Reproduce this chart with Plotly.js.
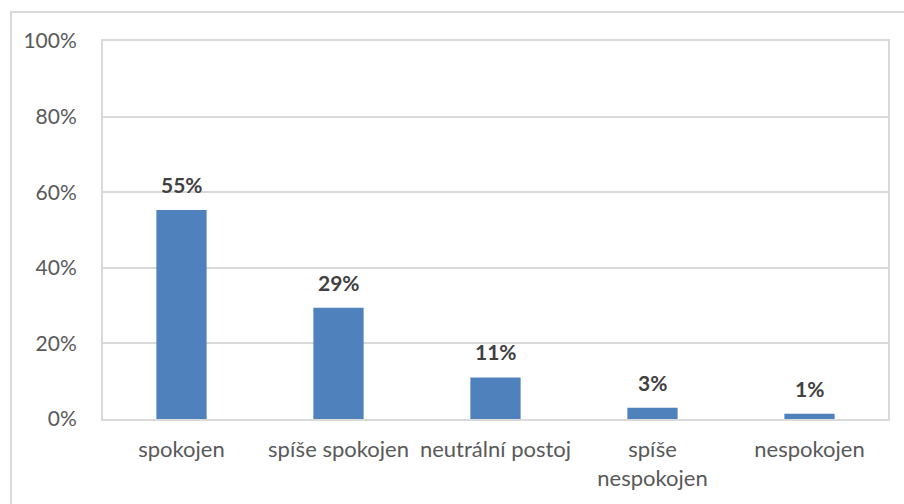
<!DOCTYPE html>
<html><head><meta charset="utf-8">
<script src="https://cdn.plot.ly/plotly-3.0.1.min.js"></script>
<style>
html,body{margin:0;padding:0;background:#fff;}
#chart{width:904px;height:504px;}
#frame{position:absolute;left:10px;top:11px;width:1000px;height:1000px;border:2px solid #d9d9d9;pointer-events:none;}
</style></head>
<body>
<div id="chart"></div>
<div id="frame"></div>
<script>
const categories = ["spokojen", "spíše spokojen", "neutrální postoj", "spíše<br>nespokojen", "nespokojen"];
const values = [0.553, 0.294, 0.11, 0.03, 0.014];
const labels = ["55%", "29%", "11%", "3%", "1%"];
const yTicks = [0, 0.2, 0.4, 0.6, 0.8, 1.0];
const yTickText = ["0%", "20%", "40%", "60%", "80%", "100%"];

const trace = {
  type: "bar",
  x: categories,
  y: values,
  marker: {color: "#4f81bd"},
  width: 0.32,
  hoverinfo: "skip"
};

const annotations = categories.map((c, i) => ({
  x: c, y: values[i], xref: "x", yref: "y",
  text: "<b>" + labels[i] + "</b>",
  showarrow: false, yanchor: "bottom", yshift: 11,
  font: {family: "Lato, 'Open Sans', sans-serif", size: 21, color: "#404040"}
}));

const layout = {
  width: 904, height: 504,
  margin: {l: 103, r: 16, t: 41, b: 85},
  paper_bgcolor: "#ffffff", plot_bgcolor: "#ffffff",
  showlegend: false,
  font: {family: "Lato, 'Open Sans', sans-serif", size: 21, color: "#595959"},
  xaxis: {
    type: "category",
    showgrid: false, zeroline: false,
    showline: true, linecolor: "#d9d9d9", linewidth: 2, mirror: true,
    ticks: "", ticklabelstandoff: 10,
    tickfont: {size: 22, color: "#595959"}
  },
  yaxis: {
    range: [0, 1], tickvals: yTicks, ticktext: yTickText,
    showgrid: true, gridcolor: "#d9d9d9", gridwidth: 2,
    zeroline: false,
    showline: true, linecolor: "#d9d9d9", linewidth: 2, mirror: true,
    ticks: "", ticklabelstandoff: 20,
    tickfont: {size: 21, color: "#595959"}
  },
  annotations: annotations
};

Plotly.newPlot("chart", [trace], layout, {displayModeBar: false, staticPlot: true});
</script>
</body></html>
